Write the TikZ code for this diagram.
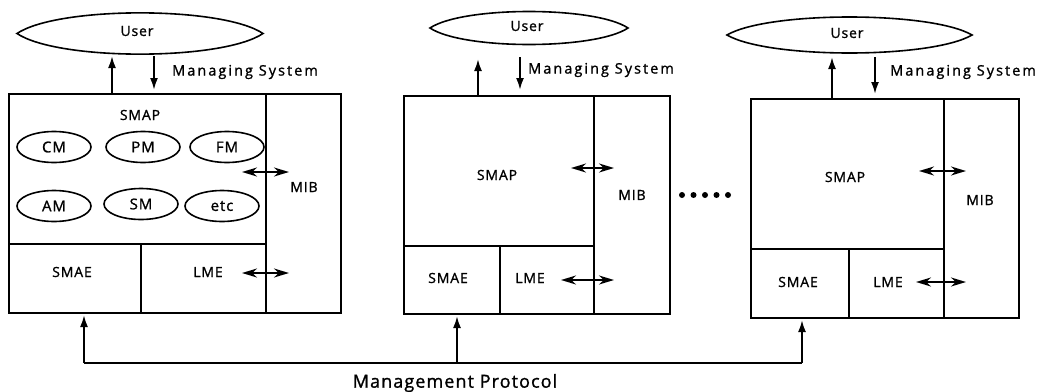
\documentclass[tikz,border=0pt]{standalone}
\usepackage{fontspec}
\setmainfont{Open Sans}[LetterSpace=6,FakeBold=1.2]
\newfontfamily\wideface{Open Sans}[LetterSpace=14,FakeBold=1.2]
\usetikzlibrary{arrows.meta,shapes.geometric}
\tikzset{
  box/.style={draw, line width=2pt, inner sep=0pt, anchor=north west},
  lbl/.style={inner sep=0pt, font=\fontsize{14}{16}\selectfont},
  small/.style={ellipse, draw, line width=1.6pt, minimum width=74pt, minimum height=31pt, inner sep=0pt, font=\fontsize{15}{17}\selectfont},
  lens/.style={line width=1.6pt},
  ms/.style={inner sep=0pt, anchor=west, font=\wideface\fontsize{14.5}{17}\selectfont},
  sarrow/.style={line width=2pt, -{Latex[length=12pt,width=8pt]}},
  darrow/.style={line width=2pt, {Stealth[length=15pt,width=9pt]}-{Stealth[length=15pt,width=9pt]}},
  dot/.style={circle, fill, inner sep=0pt, minimum size=6pt}
}
\begin{document}
\begin{tikzpicture}[x=1pt,y=-1pt]
\useasboundingbox (0,0) rectangle (1055,391);

% ---------- Panel 1 ----------
\draw[lens] (17,33.5) .. controls (58,6) and (222,6) .. (263,33.5) .. controls (222,61) and (58,61) .. cycle;
\node[lbl] (u1) at (137,31) {User};
\node[box, minimum width=257pt, minimum height=150pt] (smap1) at (8,93) {};
\node[lbl] (smapl1) at (140,115) {SMAP};
\node[box, minimum width=132pt, minimum height=69pt] (smae1) at (8,243) {};
\node[lbl] at (72,272) {SMAE};
\node[box, minimum width=125pt, minimum height=69pt] (lme1) at (140,243) {};
\node[lbl] (lmel1) at (208,272) {LME};
\node[box, minimum width=75pt, minimum height=219pt] (mib1) at (265,93) {};
\node[lbl] (mibl1) at (304,187) {MIB};
\node[small] (cm) at (54,147) {CM};
\node[small] (pm) at (143,147) {PM};
\node[small] (fm) at (227,147) {FM};
\node[small] (am) at (54,206) {AM};
\node[small] (sm) at (141,204) {SM};
\node[small] (etc) at (222,206) {etc};
\coordinate (a1u) at (112,56);
\coordinate (a1d) at (154,56);
\draw[sarrow] (smap1.north west -| a1u) -- (a1u);
\draw[sarrow] (a1d) -- (154,90);
\node[ms] (ms1) at (172,72) {Managing System};
\coordinate (d1a) at (242,172); \coordinate (d1b) at (289,172);
\draw[darrow] (d1a) -- (d1b);
\coordinate (d1c) at (242,273); \coordinate (d1d) at (289,273);
\draw[darrow] (d1c) -- (d1d);

% ---------- Panel 2 ----------
\draw[lens] (430,28) .. controls (463,6) and (595,6) .. (628,28) .. controls (595,50) and (463,50) .. cycle;
\node[lbl] (u2) at (527,26) {User};
\node[box, minimum width=190pt, minimum height=150pt] (smap2) at (403,95) {};
\node[lbl] (smapl2) at (497,175) {SMAP};
\node[box, minimum width=96pt, minimum height=68pt] (smae2) at (403,245) {};
\node[lbl] at (448,278) {SMAE};
\node[box, minimum width=94pt, minimum height=68pt] (lme2) at (499,245) {};
\node[lbl] (lmel2) at (530,278) {LME};
\node[box, minimum width=76pt, minimum height=218pt] (mib2) at (593,95) {};
\node[lbl] (mibl2) at (632,195) {MIB};
\coordinate (a2u) at (478,59);
\coordinate (a2d) at (520,57);
\draw[sarrow] (smap2.north west -| a2u) -- (a2u);
\draw[sarrow] (a2d) -- (520,90);
\node[ms] (ms2) at (528,70) {Managing System};
\draw[darrow] (571,168) coordinate (d2a) -- (614,168) coordinate (d2b);
\draw[darrow] (561,280) coordinate (d2c) -- (614,280) coordinate (d2d);
\foreach \i [count=\k] in {682,693.5,705,716.5,728} \node[dot] (dot\k) at (\i,195) {};

% ---------- Panel 3 ----------
\draw[lens] (727,35) .. controls (768,11) and (931,11) .. (972,35) .. controls (931,59) and (768,59) .. cycle;
\node[lbl] (u3) at (847,33) {User};
\node[box, minimum width=193pt, minimum height=150pt] (smap3) at (750,98) {};
\node[lbl] (smapl3) at (845,177) {SMAP};
\node[box, minimum width=98pt, minimum height=69pt] (smae3) at (750,248) {};
\node[lbl] at (798,282) {SMAE};
\node[box, minimum width=95pt, minimum height=69pt] (lme3) at (848,248) {};
\node[lbl] (lmel3) at (888,282) {LME};
\node[box, minimum width=75pt, minimum height=219pt] (mib3) at (943,98) {};
\node[lbl] (mibl3) at (980,200) {MIB};
\coordinate (a3u) at (832,57);
\coordinate (a3d) at (875,57);
\draw[sarrow] (smap3.north west -| a3u) -- (a3u);
\draw[sarrow] (a3d) -- (875,94);
\node[ms] (ms3) at (890,72) {Managing System};
\draw[darrow] (919,171) coordinate (d3a) -- (966,171) coordinate (d3b);
\draw[darrow] (916,282) coordinate (d3c) -- (966,282) coordinate (d3d);

% ---------- Management protocol ----------
\coordinate (p1) at (84,363);
\coordinate (p2) at (457,363);
\coordinate (p3) at (802,363);
\draw[line width=2pt] (p1) -- (p3);
\draw[sarrow] (p1) -- (84,315);
\draw[sarrow] (p2) -- (457,316);
\draw[sarrow] (p3) -- (802,320);
\node[inner sep=0pt, font=\fontsize{18}{20}\selectfont] (mp) at (455,383) {Management Protocol};
\end{tikzpicture}
\end{document}
